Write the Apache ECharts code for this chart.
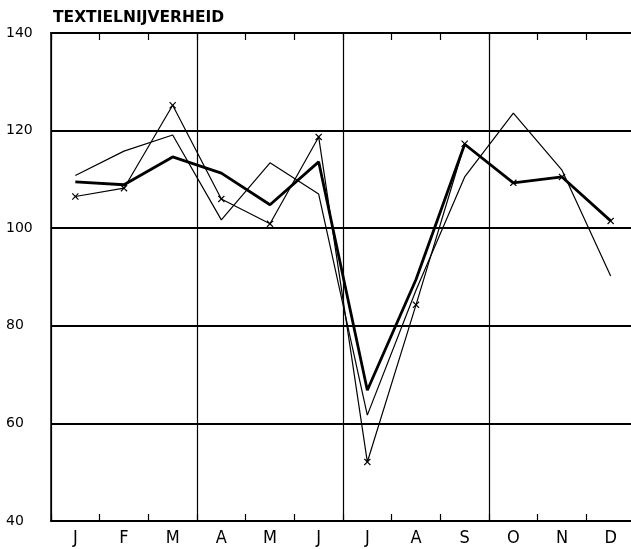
<!DOCTYPE html>
<html>
<head>
<meta charset="utf-8">
<script src="https://cdn.jsdelivr.net/npm/echarts@6/dist/echarts.min.js"></script>
<style>
html,body{margin:0;padding:0;background:#fff;overflow:hidden;width:631px;height:549px;}
#chart{width:640px;height:549px;}
</style>
</head>
<body>
<div id="chart"></div>
<script>
var titleText = 'TEXTIELNIJVERHEID';
var months = ['J','F','M','A','M','J','J','A','S','O','N','D'];
var yTicks = [40, 60, 80, 100, 120, 140];
// thin line without markers
var seriesThin = [110.8, 115.8, 119.1, 101.7, 113.4, 107.0, 61.7, 87.3, 110.5, 123.6, 111.9, 90.2];
// thin line with x markers
var seriesMarked = [106.5, 108.2, 125.2, 106.0, 100.9, 118.7, 52.1, 84.3, 117.3, 109.3, 110.5, 101.5];
// thick line
var seriesThick = [109.5, 108.9, 114.6, 111.3, 104.8, 113.6, 66.8, 89.5, 117.2, 109.3, 110.5, 101.5];

var xMark = 'path://M0,1.2L1.2,0L5,3.8L8.8,0L10,1.2L6.2,5L10,8.8L8.8,10L5,6.2L1.2,10L0,8.8L3.8,5Z';

var chart = echarts.init(document.getElementById('chart'), null, {renderer: 'canvas'});
chart.setOption({
  animation: false,
  backgroundColor: '#fff',
  title: {
    text: titleText,
    left: 53, top: 10, padding: 0,
    textStyle: {fontFamily: 'DejaVu Sans', fontSize: 15.5, fontWeight: 'bold', color: '#000'}
  },
  grid: {left: 51, top: 33, width: 584, height: 488, containLabel: false},
  xAxis: [{
    type: 'category',
    data: months,
    boundaryGap: true,
    position: 'bottom',
    axisLine: {show: true, lineStyle: {color: '#000', width: 2}},
    axisTick: {show: true, inside: true, length: 7, interval: 0, lineStyle: {color: '#000', width: 1.2}},
    axisLabel: {show: true, interval: 0, margin: 8, color: '#000', fontSize: 18,
      fontFamily: "'Liberation Sans Narrow', 'DejaVu Sans Condensed', 'Liberation Sans', sans-serif"},
    splitLine: {show: true, interval: function (i) { return i % 3 === 0; }, lineStyle: {color: '#000', width: 1.2}}
  }, {
    type: 'category',
    data: months,
    boundaryGap: true,
    position: 'top',
    axisLine: {show: true, lineStyle: {color: '#000', width: 2}},
    axisTick: {show: true, inside: true, length: 7, interval: 0, lineStyle: {color: '#000', width: 1.2}},
    axisLabel: {show: false},
    splitLine: {show: false}
  }],
  yAxis: {
    type: 'value',
    min: 40, max: 140, interval: 20,
    axisLine: {show: true, lineStyle: {color: '#000', width: 1.5}},
    axisTick: {show: false},
    axisLabel: {show: true, align: 'left', margin: 45, color: '#000', fontSize: 14,
      fontFamily: 'DejaVu Sans',
      formatter: function (v) { return yTicks.indexOf(v) >= 0 ? String(v) : ''; }},
    splitLine: {show: true, lineStyle: {color: '#000', width: 2}}
  },
  series: [{
    type: 'line',
    data: seriesThin,
    xAxisIndex: 0,
    symbol: 'none',
    lineStyle: {color: '#000', width: 1.2},
    z: 3
  }, {
    type: 'line',
    data: seriesMarked,
    xAxisIndex: 0,
    symbol: xMark,
    symbolSize: 7,
    showSymbol: true,
    itemStyle: {color: '#000'},
    lineStyle: {color: '#000', width: 1.2},
    z: 4
  }, {
    type: 'line',
    data: seriesThick,
    xAxisIndex: 0,
    symbol: 'none',
    lineStyle: {color: '#000', width: 2.8},
    z: 5
  }]
});
</script>
</body>
</html>
